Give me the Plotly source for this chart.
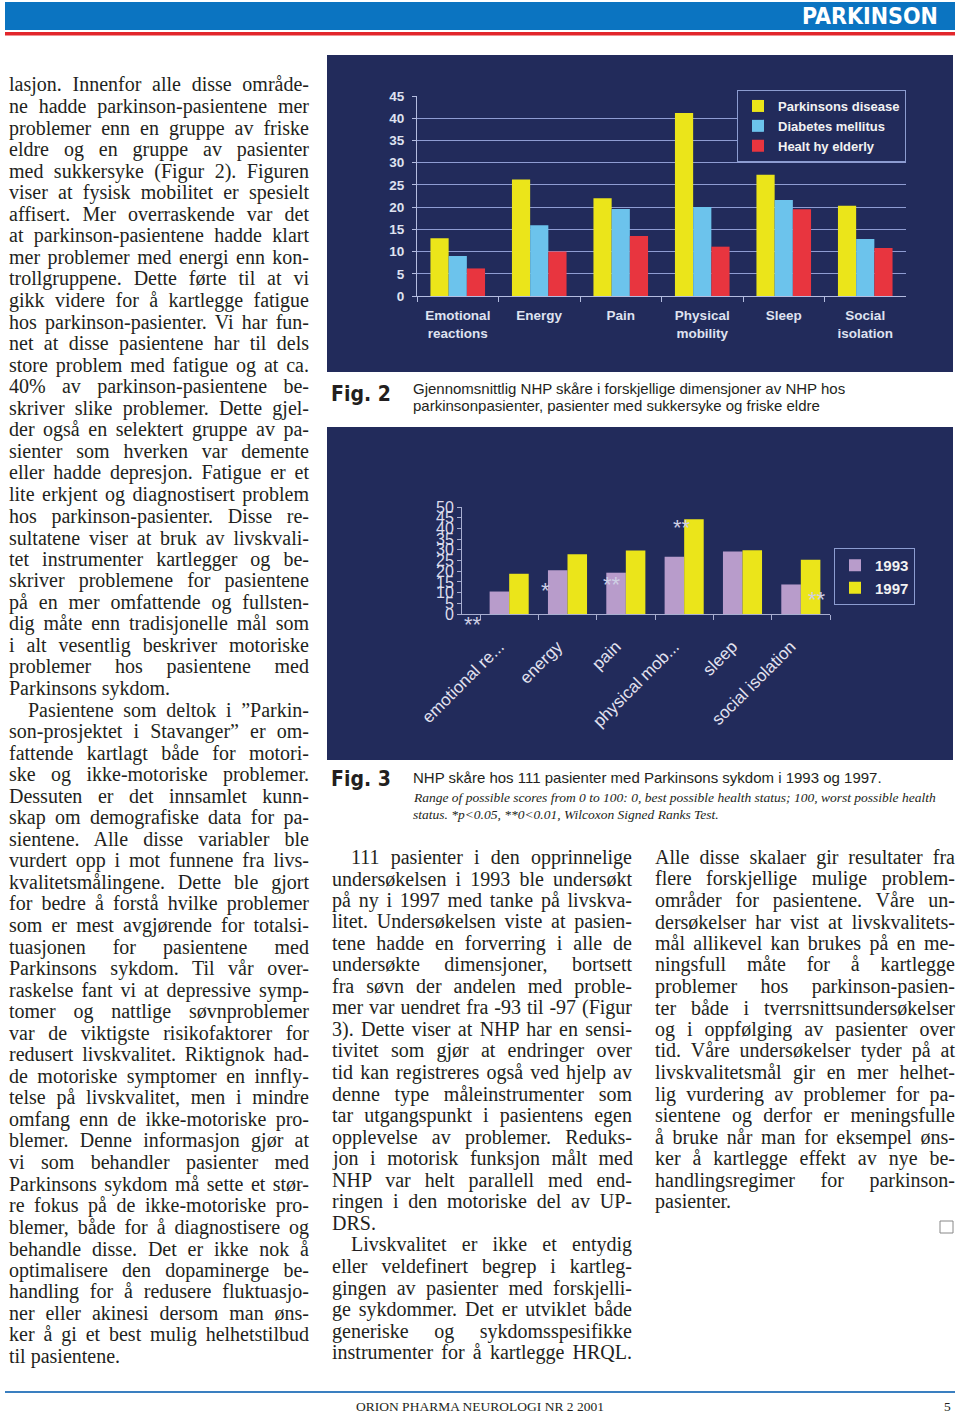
import json
import plotly.graph_objects as go

# Fig. 2: mean NHP score by dimension
dims = ["Emotional<br>reactions", "Energy", "Pain", "Physical<br>mobility", "Sleep", "Social<br>isolation"]
parkinsons = [13.0, 26.2, 22.0, 41.2, 27.3, 20.3]
diabetes = [9.0, 15.9, 19.6, 20.0, 21.6, 12.8]
healthy = [6.2, 10.0, 13.5, 11.1, 19.5, 10.8]

# Fig. 3: NHP score 1993 vs 1997 (111 patients)
dims_short = ["emotional re...", "energy", "pain", "physical mob...", "sleep", "social isolation"]
score_1993 = [10.5, 20.5, 19.3, 26.8, 29.2, 13.8]
score_1997 = [18.8, 27.9, 29.7, 44.3, 29.8, 25.3]
signif = ["**", "*", "**", "**", "", "**"]

# body text, ">" = indented paragraph start, "<" = paragraph end (not justified)
left_col = [
    "lasjon. Innenfor alle disse område-",
    "ne hadde parkinson-pasientene mer",
    "problemer enn en gruppe av friske",
    "eldre og en gruppe av pasienter",
    "med sukkersyke (Figur 2). Figuren",
    "viser at fysisk mobilitet er spesielt",
    "affisert. Mer overraskende var det",
    "at parkinson-pasientene hadde klart",
    "mer problemer med energi enn kon-",
    "trollgruppene. Dette førte til at vi",
    "gikk videre for å kartlegge fatigue",
    "hos parkinson-pasienter. Vi har fun-",
    "net at disse pasientene har til dels",
    "store problem med fatigue og at ca.",
    "40% av parkinson-pasientene be-",
    "skriver slike problemer. Dette gjel-",
    "der også en selektert gruppe av pa-",
    "sienter som hverken var demente",
    "eller hadde depresjon. Fatigue er et",
    "lite erkjent og diagnostisert problem",
    "hos parkinson-pasienter. Disse re-",
    "sultatene viser at bruk av livskvali-",
    "tet instrumenter kartlegger og be-",
    "skriver problemene for pasientene",
    "på en mer omfattende og fullsten-",
    "dig måte enn tradisjonelle mål som",
    "i alt vesentlig beskriver motoriske",
    "problemer hos pasientene med",
    "<Parkinsons sykdom.",
    ">Pasientene som deltok i ”Parkin-",
    "son-prosjektet i Stavanger” er om-",
    "fattende kartlagt både for motori-",
    "ske og ikke-motoriske problemer.",
    "Dessuten er det innsamlet kunn-",
    "skap om demografiske data for pa-",
    "sientene. Alle disse variabler ble",
    "vurdert opp i mot funnene fra livs-",
    "kvalitetsmålingene. Dette ble gjort",
    "for bedre å forstå hvilke problemer",
    "som er mest avgjørende for totalsi-",
    "tuasjonen for pasientene med",
    "Parkinsons sykdom. Til vår over-",
    "raskelse fant vi at depressive symp-",
    "tomer og nattlige søvnproblemer",
    "var de viktigste risikofaktorer for",
    "redusert livskvalitet. Riktignok had-",
    "de motoriske symptomer en innfly-",
    "telse på livskvalitet, men i mindre",
    "omfang enn de ikke-motoriske pro-",
    "blemer. Denne informasjon gjør at",
    "vi som behandler pasienter med",
    "Parkinsons sykdom må sette et stør-",
    "re fokus på de ikke-motoriske pro-",
    "blemer, både for å diagnostisere og",
    "behandle disse. Det er ikke nok å",
    "optimalisere den dopaminerge be-",
    "handling for å redusere fluktuasjo-",
    "ner eller akinesi dersom man øns-",
    "ker å gi et best mulig helhetstilbud",
    "<til pasientene.",
]

mid_col = [
    ">111 pasienter i den opprinnelige",
    "undersøkelsen i 1993 ble undersøkt",
    "på ny i 1997 med tanke på livskva-",
    "litet. Undersøkelsen viste at pasien-",
    "tene hadde en forverring i alle de",
    "undersøkte dimensjoner, bortsett",
    "fra søvn der andelen med proble-",
    "mer var uendret fra -93 til -97 (Figur",
    "3). Dette viser at NHP har en sensi-",
    "tivitet som gjør at endringer over",
    "tid kan registreres også ved hjelp av",
    "denne type måleinstrumenter som",
    "tar utgangspunkt i pasientens egen",
    "opplevelse av problemer. Reduks-",
    "jon i motorisk funksjon målt med",
    "NHP var helt parallell med end-",
    "ringen i den motoriske del av UP-",
    "<DRS.",
    ">Livskvalitet er ikke et entydig",
    "eller veldefinert begrep i kartleg-",
    "gingen av pasienter med forskjelli-",
    "ge sykdommer. Det er utviklet både",
    "generiske og sykdomsspesifikke",
    "instrumenter for å kartlegge HRQL.",
]

right_col = [
    "Alle disse skalaer gir resultater fra",
    "flere forskjellige mulige problem-",
    "områder for pasientene. Våre un-",
    "dersøkelser har vist at livskvalitets-",
    "mål allikevel kan brukes på en me-",
    "ningsfull måte for å kartlegge",
    "problemer hos parkinson-pasien-",
    "ter både i tverrsnittsundersøkelser",
    "og i oppfølging av pasienter over",
    "tid. Våre undersøkelser tyder på at",
    "livskvalitetsmål gir en mer helhet-",
    "lig vurdering av problemer for pa-",
    "sientene og derfor er meningsfulle",
    "å bruke når man for eksempel øns-",
    "ker å kartlegge effekt av nye be-",
    "handlingsregimer for parkinson-",
    "<pasienter.",
]

W, H = 960, 1415
NAVY = "#222b5b"
SANS = "Liberation Sans, Arial, sans-serif"
NARROW = "Liberation Sans Narrow, DejaVu Sans Condensed, Liberation Sans, sans-serif"
SERIF = "Liberation Serif, Times New Roman, serif"


def fx(x):
    return x / W


def fy(y):
    return 1 - y / H


fig = go.Figure()

# figure 2 bars
for name, vals, col in [("Parkinsons disease", parkinsons, "#ebe51a"),
                        ("Diabetes mellitus", diabetes, "#6cc3ec"),
                        ("Healt hy elderly", healthy, "#e8353f")]:
    fig.add_trace(go.Bar(x=dims, y=vals, name=name, marker_color=col,
                         marker_line_width=0, xaxis="x", yaxis="y", legend="legend"))

# figure 3 bars
for name, vals, col in [("1993", score_1993, "#b89ccb"), ("1997", score_1997, "#ebe51a")]:
    fig.add_trace(go.Bar(x=dims_short, y=vals, name=name, marker_color=col,
                         marker_line_width=0, xaxis="x2", yaxis="y2", legend="legend2"))

shapes = [
    # header
    dict(type="rect", xref="paper", yref="paper", x0=fx(5), x1=fx(955), y0=fy(30), y1=fy(2),
         fillcolor="#0b74c1", line_width=0),
    dict(type="rect", xref="paper", yref="paper", x0=fx(5), x1=fx(955), y0=fy(35.5), y1=fy(32),
         fillcolor="#e2262b", line_width=0),
    # chart panels
    dict(type="rect", xref="paper", yref="paper", x0=fx(327), x1=fx(953), y0=fy(372), y1=fy(55),
         fillcolor=NAVY, line_width=0, layer="below"),
    dict(type="rect", xref="paper", yref="paper", x0=fx(327), x1=fx(953), y0=fy(760), y1=fy(427),
         fillcolor=NAVY, line_width=0, layer="below"),
    # footer rule
    dict(type="line", xref="paper", yref="paper", x0=fx(5), x1=fx(955), y0=fy(1392), y1=fy(1392),
         line=dict(color="#3a7fc0", width=2)),
    # end mark
    dict(type="rect", xref="paper", yref="paper", x0=fx(940), x1=fx(953), y0=fy(1233), y1=fy(1221),
         line=dict(color="#888888", width=1), fillcolor="white"),
]

ann = []


def txt(x, y, s, size, family, color="#231f20", anchor="left", weight="normal", style="normal"):
    ann.append(dict(x=fx(x), y=fy(y), xref="paper", yref="paper", text=s, showarrow=False,
                    xanchor=anchor, yanchor="middle", align="left" if anchor == "left" else anchor,
                    font=dict(size=size, family=family, color=color, weight=weight, style=style)))


txt(940, 16, "PARKINSON", 23, NARROW, color="white", anchor="right", weight="bold")

# body text columns; justified lines get their target width
LH = 21.55
COL_W = 300
justify = {}
for lines, x0, y0 in [(left_col, 7, 85), (mid_col, 330, 857), (right_col, 653, 857)]:
    for i, line in enumerate(lines):
        indent = 0
        last = False
        if line.startswith(">"):
            line = line[1:]
            indent = 19
        if line.startswith("<"):
            line = line[1:]
            last = True
        txt(x0 + indent, y0 + i * LH, line, 20, SERIF)
        if not last:
            justify[line] = COL_W - indent

# captions
txt(329, 394, "Fig. 2", 21, NARROW, weight="bold")
txt(411, 388, "Gjennomsnittlig NHP skåre i forskjellige dimensjoner av NHP hos", 15, SANS)
txt(411, 405, "parkinsonpasienter, pasienter med sukkersyke og friske eldre", 15, SANS)
txt(329, 779, "Fig. 3", 21, NARROW, weight="bold")
txt(411, 777, "NHP skåre hos 111 pasienter med Parkinsons sykdom i 1993 og 1997.", 15, SANS)
txt(411, 797, "Range of possible scores from 0 to 100: 0, best possible health status; 100, worst possible health",
    13.5, SERIF, style="italic")
txt(411, 814, "status. *p<0.05, **0<0.01, Wilcoxon Signed Ranks Test.", 13.5, SERIF, style="italic")

# footer
txt(480, 1406, "ORION PHARMA NEUROLOGI NR 2 2001", 13.5, SERIF, anchor="center")
txt(953, 1406, "5", 13.5, SERIF, anchor="right")

# significance stars on fig. 3 (x = category index, y = score, pixel shift)
star_pos = [(-0.62, 0, -10), (0.63, 12.6, -3), (1.77, 15, -3), (2.97, 42, -3), None, (5.27, 8, -3)]
for mark, pos in zip(signif, star_pos):
    if not mark or pos is None:
        continue
    ann.append(dict(x=pos[0], y=pos[1], yshift=pos[2], xref="x2", yref="y2", text=mark,
                    showarrow=False, font=dict(size=22, family=SANS, color="#cfcfe4")))

grid = "#8f9cd2"
fig.update_layout(
    width=W, height=H,
    margin=dict(l=0, r=0, t=0, b=0, pad=0),
    paper_bgcolor="white", plot_bgcolor="rgba(0,0,0,0)",
    barmode="group", bargap=0.33, bargroupgap=0,
    showlegend=True,
    shapes=shapes, annotations=ann,
    xaxis=dict(domain=[fx(417), fx(906)], anchor="y", automargin=False,
               showline=True, linecolor="#b4bce0",
               ticks="outside", tickson="boundaries", ticklen=5, tickcolor="#b4bce0",
               ticklabelstandoff=7,
               tickfont=dict(size=13.5, family=SANS, color="#dfe2f0", weight="bold")),
    yaxis=dict(domain=[fy(296), fy(96)], anchor="x", automargin=False, range=[0, 45], dtick=5,
               showgrid=True, gridcolor=grid, gridwidth=1, zeroline=False,
               showline=True, linecolor="#b4bce0", ticks="outside", ticklen=4, tickcolor="#b4bce0",
               ticklabelstandoff=5,
               tickfont=dict(size=13.5, family=SANS, color="#dfe2f0", weight="bold")),
    xaxis2=dict(domain=[fx(462), fx(830)], anchor="y2", automargin=False,
                showline=True, linecolor="#a8aed0",
                ticks="outside", tickson="boundaries", ticklen=5, tickcolor="#a8aed0",
                tickmode="array", tickvals=dims_short,
                ticktext=[d + "\u00a0" * 3 for d in dims_short],
                tickangle=-45, ticklabelstandoff=5,
                tickfont=dict(size=17, family=SANS, color="#e2e2f0")),
    yaxis2=dict(domain=[fy(614), fy(507)], anchor="x2", automargin=False, range=[0, 50], dtick=5,
                showgrid=False, zeroline=False, showline=True, linecolor="#a8aed0",
                ticks="outside", ticklen=4, tickcolor="#a8aed0",
                tickfont=dict(size=16, family=SANS, color="#dcdcec")),
    legend=dict(x=fx(906), y=fy(90), xanchor="right", yanchor="top", bgcolor=NAVY,
                bordercolor="#8c9cd0", borderwidth=1, tracegroupgap=0,
                font=dict(size=13, family=SANS, color="#f2f2f2", weight="bold")),
    legend2=dict(x=fx(834), y=fy(548), xanchor="left", yanchor="top", bgcolor=NAVY,
                 bordercolor="#8c9cd0", borderwidth=1,
                 font=dict(size=15, family=SANS, color="#f2f2f2", weight="bold")),
)

# page has no body margin; spread words so the body columns are justified
post = """
document.body.style.margin = '0';
var J = %s;
document.querySelectorAll('text.annotation-text').forEach(function(t) {
    var s = t.textContent, w = J[s];
    if (!w) return;
    var n = (s.match(/ /g) || []).length;
    if (!n) return;
    t.style.wordSpacing = ((w - t.getComputedTextLength()) / n) + 'px';
});
""" % json.dumps(justify, ensure_ascii=False)

fig.write_html("out.html", post_script=post, config={"displayModeBar": False})
